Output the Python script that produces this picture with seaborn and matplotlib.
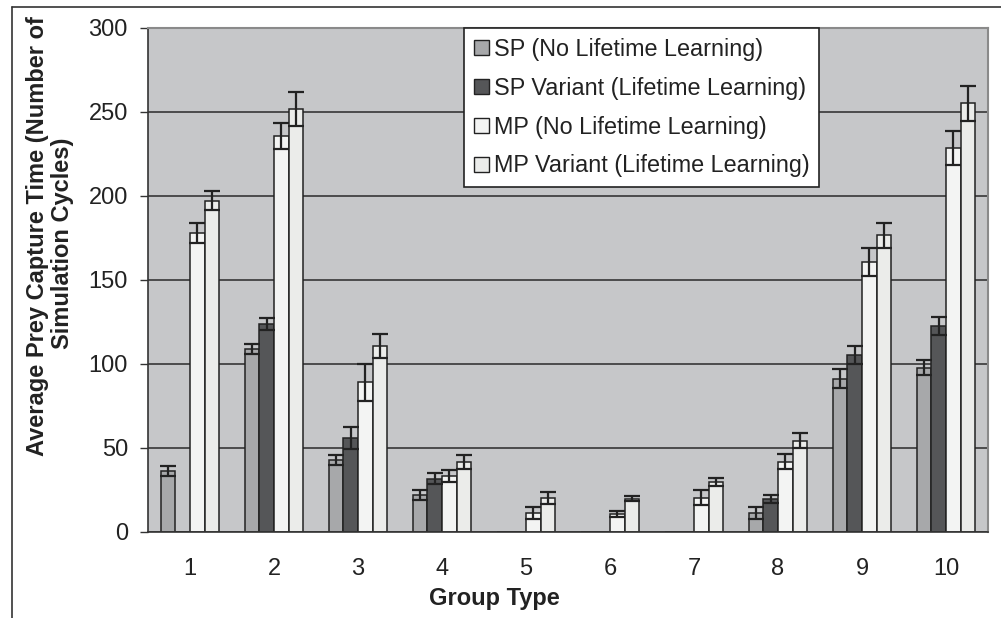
import numpy as np
import pandas as pd
import matplotlib
matplotlib.use("Agg")
import matplotlib.pyplot as plt
from matplotlib.lines import Line2D
import seaborn as sns

# ---- data ----
groups = ["1", "2", "3", "4", "5", "6", "7", "8", "9", "10"]
series = ["SP (No Lifetime Learning)", "SP Variant (Lifetime Learning)",
          "MP (No Lifetime Learning)", "MP Variant (Lifetime Learning)"]
sp = [36, 108.5, 42.5, 22, 0, 0, 0, 11, 91, 97.5]
sp_err = [3, 3, 3, 3, 0, 0, 0, 3.5, 5.5, 4.5]
spv = [0, 123.5, 55.5, 31.5, 0, 0, 0, 19.5, 105, 122.5]
spv_err = [0, 3.5, 6.5, 3.5, 0, 0, 0, 2.5, 5.5, 5.5]
mp = [178, 235.5, 89, 33, 11, 10.5, 20, 41.5, 160.5, 228.5]
mp_err = [6, 7.5, 11, 3.5, 3.5, 2, 4.5, 4.5, 8.5, 10]
mpv = [197, 251.5, 110.5, 41.5, 20, 19.5, 29.5, 54, 176.5, 255]
mpv_err = [5.5, 10, 7, 4, 3.5, 1.5, 2.5, 4.5, 7.5, 10.5]
yticks = [0, 50, 100, 150, 200, 250, 300]

colors = ["#a7a8aa", "#555658", "#f3f4f3", "#ebecea"]

vals = [sp, spv, mp, mpv]
errs = [sp_err, spv_err, mp_err, mpv_err]
rows = []
for s, v, e in zip(series, vals, errs):
    for g, vv, ee in zip(groups, v, e):
        rows.append({"Group": g, "Series": s, "Value": vv, "Err": ee})
df = pd.DataFrame(rows)

sns.set_style("white")
plt.rcParams["font.family"] = ["Liberation Sans", "DejaVu Sans"]

W, H = 1001, 618
fig = plt.figure(figsize=(W / 100, H / 100), dpi=100)
L, R, T, B = 148, 988, 27.7, 531.5
ax = fig.add_axes([L / W, 1 - B / H, (R - L) / W, (B - T) / H])
ax.set_facecolor("#c6c7c9")

sns.barplot(data=df, x="Group", y="Value", hue="Series", order=groups,
            hue_order=series, palette=colors, width=0.7, gap=0,
            errorbar=None, edgecolor="#222222", linewidth=1.1, ax=ax,
            legend=False, zorder=2)

# error bars placed on seaborn's bar patches
for patches, e, v in zip([ax.containers[i] for i in range(4)], errs, vals):
    for p, ee, vv in zip(patches, e, v):
        if ee <= 0:
            continue
        xc = p.get_x() + p.get_width() / 2
        ax.errorbar(xc, p.get_height(), yerr=ee, fmt="none", ecolor="#222222",
                    elinewidth=1.6, capsize=6, capthick=1.6, zorder=3)

ax.set_ylim(0, 300)
ax.set_xlim(-0.5, len(groups) - 0.5)
ax.set_yticks(yticks)
ax.set_yticklabels([str(t) for t in yticks])
ax.yaxis.grid(True, color="#2a2a2a", linewidth=1.1, zorder=0)
ax.set_axisbelow(True)

ax.set_xticks(range(len(groups)))
ax.set_xticklabels(groups)
ax.set_xticks(np.arange(-0.5, len(groups), 1.0), minor=True)
ax.tick_params(axis="x", which="major", length=0, pad=19, labelsize=17, colors="#222222")
ax.tick_params(axis="x", which="minor", length=5.5, width=1, color="#333333", direction="out")
ax.tick_params(axis="y", which="major", length=5.5, width=1, color="#333333",
               direction="out", pad=9, labelsize=17, labelcolor="#222222")
ax.tick_params(left=True)

for side in ["left", "bottom"]:
    ax.spines[side].set_color("#333333")
    ax.spines[side].set_linewidth(1.2)
for side in ["top", "right"]:
    ax.spines[side].set_color("#8a8a8a")
    ax.spines[side].set_linewidth(1.5)

ax.set_xlabel("")
ax.set_ylabel("")

# axis titles placed as in the reference
fig.text(494 / W, 1 - 598 / H, "Group Type", ha="center", va="center",
         fontsize=17, fontweight="bold", color="#222222")
fig.text(38 / W, 1 - 236 / H, "Average Prey Capture Time (Number of", rotation=90,
         ha="center", va="center", fontsize=17, fontweight="bold", color="#222222")
fig.text(63 / W, 1 - 243 / H, "Simulation Cycles)", rotation=90,
         ha="center", va="center", fontsize=17, fontweight="bold", color="#222222")

# legend
handles = [matplotlib.patches.Patch(facecolor=c, edgecolor="#222222", linewidth=1)
           for c in colors]
leg = fig.legend(handles, series, loc="upper left",
                 bbox_to_anchor=(464 / W, 1 - 28 / H), bbox_transform=fig.transFigure,
                 borderaxespad=0, fontsize=16.8, frameon=True, fancybox=False,
                 edgecolor="#222222", facecolor="white", framealpha=1,
                 handlelength=0.65, handleheight=0.6, handletextpad=0.2,
                 labelspacing=0.68, borderpad=0.42)
leg.get_frame().set_linewidth(1.2)
for t in leg.get_texts():
    t.set_color("#222222")

# outer chart frame
fig.add_artist(Line2D([12 / W, 1], [1 - 7 / H, 1 - 7 / H], transform=fig.transFigure,
                      color="#333333", linewidth=1.2))
fig.add_artist(Line2D([12 / W, 12 / W], [1 - 7 / H, 0], transform=fig.transFigure,
                      color="#333333", linewidth=1.2))

fig.savefig("out.png", dpi=100, facecolor="white")
